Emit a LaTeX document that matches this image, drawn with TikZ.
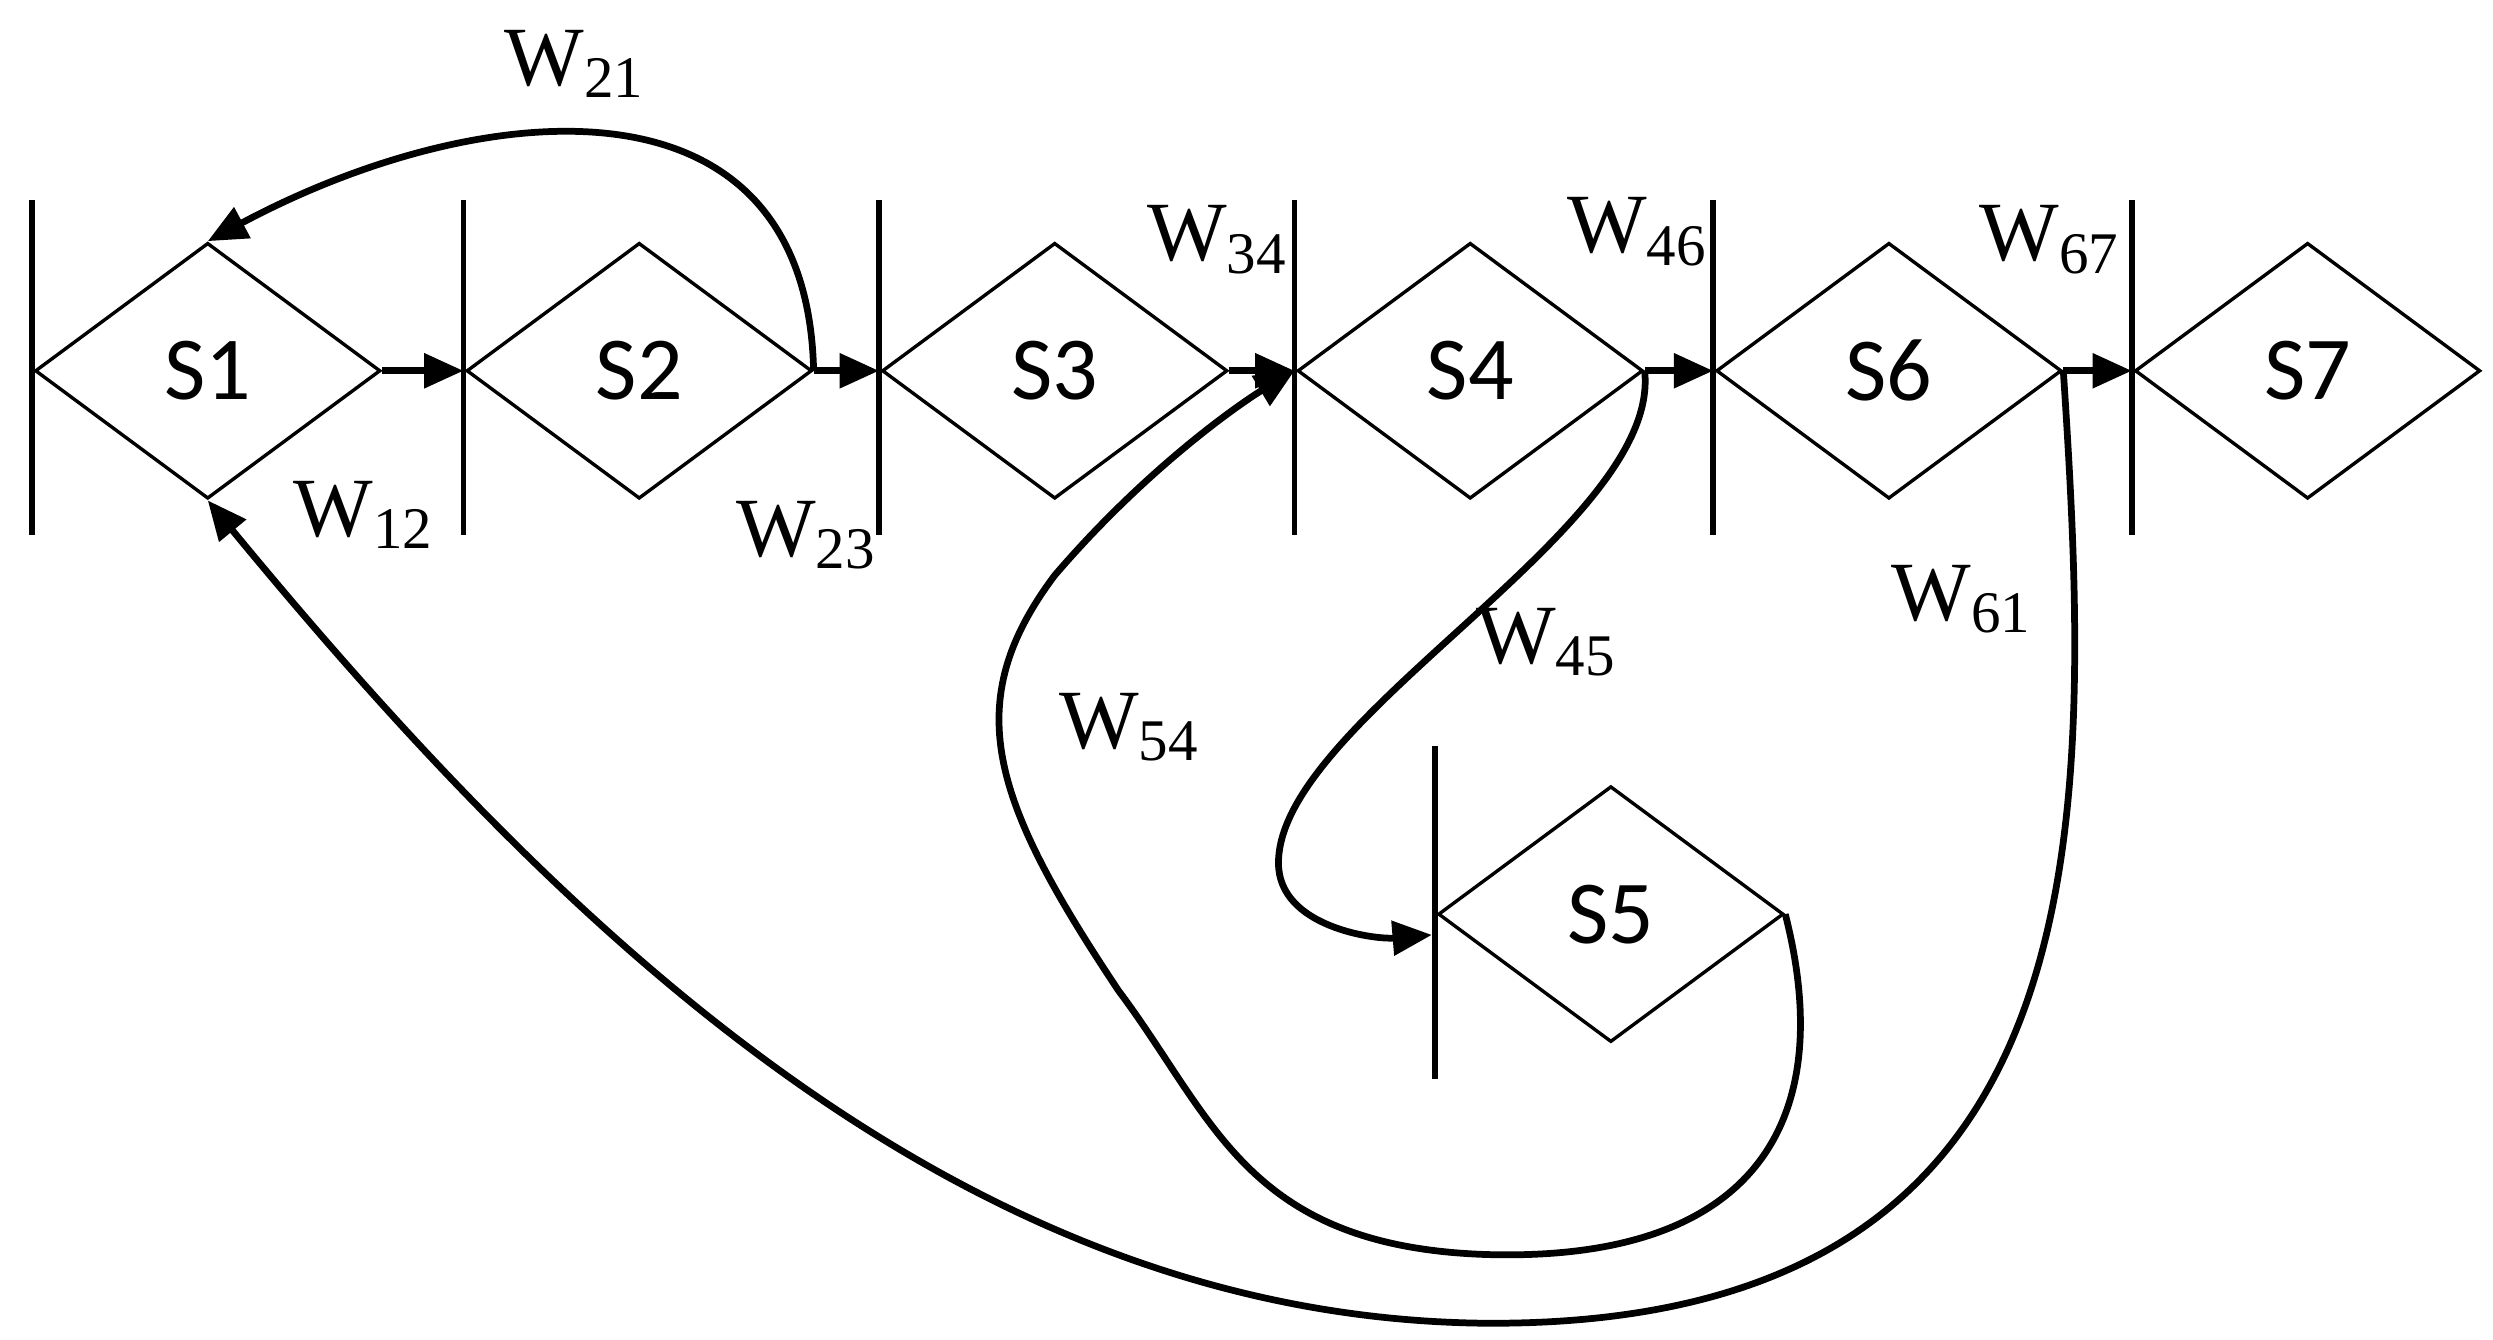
\documentclass[tikz,border=0pt]{standalone}
\usepackage{fontspec}
\setmainfont{Liberation Serif}
\newfontfamily\stfont{Carlito}
\usetikzlibrary{shapes.geometric,arrows.meta}

\begin{document}
\begin{tikzpicture}[x=0.01cm, y=-0.01cm,
  state/.style={diamond, draw, line width=0.6pt, inner sep=0pt, minimum width=2.16cm, minimum height=1.6cm, font=\stfont\fontsize{16}{16}\selectfont},
  bar/.style={line width=1pt},
  arrow/.style={-{Triangle[length=7pt,width=6pt]}, line width=1.2pt},
  lbl/.style={font=\fontsize{15}{15}\selectfont}
]
  \useasboundingbox (0,0) rectangle (1560,838);

  % states
  \node[state] (s1) at (130,232) {S1};
  \node[state] (s2) at (400,232) {S2};
  \node[state] (s3) at (660,232) {S3};
  \node[state] (s4) at (920,232) {S4};
  \node[state] (s6) at (1182,232) {S6};
  \node[state] (s7) at (1444,232) {S7};
  \node[state] (s5) at (1008,572) {S5};

  % bars
  \foreach \x/\n in {20/1,290/2,550/3,810/4,1072/6,1334/7}{
    \draw[bar] (\x,125) -- (\x,335);
    \coordinate (b\n) at (\x,232);
  }
  \draw[bar] (898,467) -- (898,675);
  \coordinate (b5) at (896,585);

  % forward arrows
  \draw[arrow] (s1.east) -- (b2);
  \draw[arrow] (s2.east) -- (b3);
  \draw[arrow] (s3.east) -- (b4);
  \draw[arrow] (s4.east) -- (b6);
  \draw[arrow] (s6.east) -- (b7);

  % back arrows
  \draw[arrow] (s2.east) .. controls (505,40) and (300,60) .. (s1.north);
  \draw[arrow] (s4.east) .. controls (1040,330) and (800,450) .. (800,540)
    .. controls (800,580) and (860,588) .. (b5);
  \draw[arrow] (s5.east) .. controls (1150,700) and (1100,790) .. (930,785)
    .. controls (780,780) and (760,700) .. (700,620)
    .. controls (620,500) and (600,440) .. (660,360)
    .. controls (720,290) and (780,250) .. (b4);
  \draw[arrow] (s6.east) .. controls (1310,520) and (1320,830) .. (930,828)
    .. controls (600,825) and (350,580) .. (s1.south);

  % labels
  \node[lbl] (w21) at (360,40) {W\textsubscript{21}};
  \node[lbl] (w12) at (228,322) {W\textsubscript{12}};
  \node[lbl] (w23) at (505,335) {W\textsubscript{23}};
  \node[lbl] (w34) at (762,150) {W\textsubscript{34}};
  \node[lbl] (w46) at (1025,145) {W\textsubscript{46}};
  \node[lbl] (w67) at (1283,150) {W\textsubscript{67}};
  \node[lbl] (w45) at (968,402) {W\textsubscript{45}};
  \node[lbl] (w54) at (707,455) {W\textsubscript{54}};
  \node[lbl] (w61) at (1228,375) {W\textsubscript{61}};
\end{tikzpicture}
\end{document}
